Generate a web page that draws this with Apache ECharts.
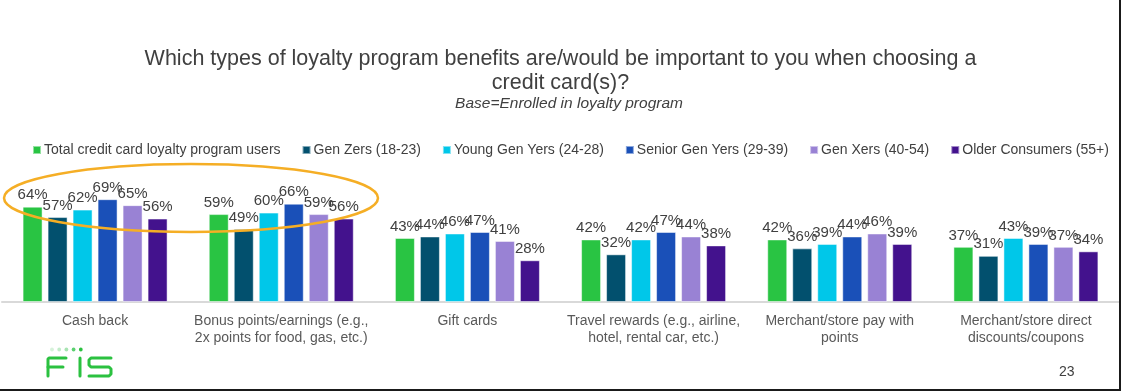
<!DOCTYPE html>
<html>
<head>
<meta charset="utf-8">
<script src="https://cdn.jsdelivr.net/npm/echarts@6/dist/echarts.min.js"></script>
<style>
  html, body { margin: 0; padding: 0; background: #fff; }
  #chart { width: 1121px; height: 391px; }
  #frame { position: absolute; left: 0; top: 0; width: 1119px; height: 389px; border-right: 2px solid #1a1a1a; border-bottom: 2px solid #1a1a1a; pointer-events: none; }
</style>
</head>
<body>
<div id="chart"></div>
<div id="frame"></div>
<script>
const categories = [
  'Cash back',
  'Bonus points/earnings (e.g.,\n2x points for food, gas, etc.)',
  'Gift cards',
  'Travel rewards (e.g., airline,\nhotel, rental car, etc.)',
  'Merchant/store pay with\npoints',
  'Merchant/store direct\ndiscounts/coupons'
];
const seriesNames = [
  'Total credit card loyalty program users',
  'Gen Zers (18-23)',
  'Young Gen Yers (24-28)',
  'Senior Gen Yers (29-39)',
  'Gen Xers (40-54)',
  'Older Consumers (55+)'
];
const totalUsers    = [64, 59, 43, 42, 42, 37];
const genZers       = [57, 49, 44, 32, 36, 31];
const youngGenYers  = [62, 60, 46, 42, 39, 43];
const seniorGenYers = [69, 66, 47, 47, 44, 39];
const genXers       = [65, 59, 41, 44, 46, 37];
const olderConsumers= [56, 56, 28, 38, 39, 34];
const colors = ['#29C443', '#02506E', '#00C7E9', '#1A50B8', '#9982D4', '#43128D'];

const allValues = [totalUsers, genZers, youngGenYers, seniorGenYers, genXers, olderConsumers];

const chart = echarts.init(document.getElementById('chart'));
const dots = [];
const dotColors = ['#D6F2DA', '#C2ECC9', '#A8E4B2', '#5BD070', '#2BC140'];
for (let i = 0; i < 5; i++) {
  dots.push({ type: 'circle', shape: { cx: 52 + i * 7.2, cy: 349.5, r: 1.9 }, style: { fill: dotColors[i] } });
}
const logoStyle = { fill: 'none', stroke: '#2BC140', lineWidth: 3, lineCap: 'round', lineJoin: 'round' };
chart.setOption({
  animation: false,
  textStyle: { fontFamily: 'Liberation Sans, Arial, sans-serif' },
  title: [
    { text: 'Which types of loyalty program benefits are/would be important to you when choosing a\ncredit card(s)?',
      left: 'center', top: 42,
      textStyle: { fontSize: 21.5, fontWeight: 'normal', color: '#404040', lineHeight: 24, align: 'center' } },
    { text: 'Base=Enrolled in loyalty program',
      left: 564, top: 91, textAlign: 'center',
      textStyle: { fontSize: 15.5, fontStyle: 'italic', fontWeight: 'normal', color: '#404040' } }
  ],
  legend: {
    data: seriesNames,
    top: 143, left: 32, width: 1085, padding: 0,
    itemWidth: 8, itemHeight: 8, itemGap: 21,
    icon: 'rect',
    textStyle: { fontSize: 14, color: '#404040', padding: [0, 0, 0, -2] }
  },
  grid: { left: 2, right: 2, top: 153, bottom: 89 },
  xAxis: {
    type: 'category',
    data: categories,
    axisLine: { lineStyle: { color: '#D9D9D9', width: 2 } },
    axisTick: { show: false },
    axisLabel: { fontSize: 14, color: '#595959', lineHeight: 17, margin: 11, interval: 0 }
  },
  yAxis: { type: 'value', min: 0, max: 100, show: false, splitLine: { show: false } },
  series: allValues.map((vals, i) => ({
    name: seriesNames[i],
    type: 'bar',
    data: vals,
    barWidth: 20,
    barGap: '25%',
    itemStyle: { color: colors[i], borderColor: 'rgba(255,255,255,0.5)', borderWidth: 1 },
    label: { show: true, position: 'top', distance: 4, formatter: '{c}%', fontSize: 15, color: '#404040' }
  })),
  graphic: [
    { type: 'ellipse', shape: { cx: 191, cy: 198, rx: 187, ry: 34 },
      style: { fill: 'none', stroke: '#F5AE25', lineWidth: 2.5 }, z: 100 },
    { type: 'polyline', z: 100, shape: { points: [[66, 358], [49, 358], [48, 359], [48, 376]] }, style: logoStyle },
    { type: 'line', z: 100, shape: { x1: 48, y1: 367, x2: 63, y2: 367 }, style: logoStyle },
    { type: 'line', z: 100, shape: { x1: 80, y1: 358, x2: 80, y2: 376 }, style: logoStyle },
    { type: 'polyline', z: 100, shape: { points: [[111, 358], [91, 358], [89, 360], [89, 365], [91, 367], [109, 367], [111, 369], [111, 374], [109, 376], [89, 376]] }, style: logoStyle },
    ...dots,
    { type: 'text', left: 1059, top: 365,
      style: { text: '23', fill: '#404040', font: '14px "Liberation Sans", Arial, sans-serif' } }
  ]
});
</script>
</body>
</html>
